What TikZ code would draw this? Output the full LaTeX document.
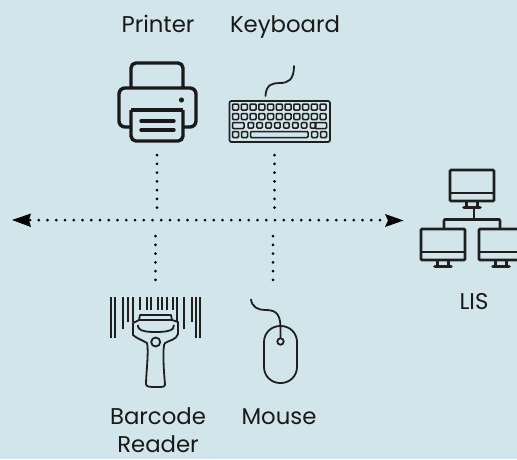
\documentclass[tikz,border=0pt]{standalone}
\usepackage{fontspec}
\setmainfont{Poppins}
\tikzset{
 lbl/.style={font=\fontsize{22.8}{28}\selectfont,text=black!90,align=center,inner sep=0pt},
 icon/.style={draw=black!90,line width=3.4pt,line join=round},
 thin icon/.style={draw=black!88,line width=1.5pt,rounded corners=1pt},
 mid icon/.style={draw=black!88,line width=1.8pt,line join=round,line cap=round},
 dotline/.style={black,line width=3pt,line cap=round,dash pattern=on 0pt off 8.75pt},
 net/.style={draw=black!88,line width=2.7pt}
}
\begin{document}
\begin{tikzpicture}[x=1pt,y=-1pt]
\useasboundingbox (0,0) rectangle (517,459);
\fill[fill={rgb,255:red,209;green,229;blue,235}] (0,0) rectangle (517,459);
\node[lbl,anchor=base] (printer) at (158,32) {Printer};
\node[lbl,anchor=base] (keyboard) at (285,32) {Keyboard};
\node[lbl,anchor=base] (lis) at (474,309) {LIS};
\node[lbl,anchor=base] (barcode) at (158,452) {Barcode\\Reader};
\node[lbl,anchor=base] (mouse) at (279,424) {Mouse};
% printer
\draw[icon,rounded corners=5pt] (131,87) -- (131,63) -- (183,63) -- (183,87);
\draw[icon,rounded corners=6pt] (131,127) -- (119,127) -- (119,88) -- (196,88) -- (196,127) -- (183,127);
\draw[icon] (131,110) -- (183,110);
\draw[icon,rounded corners=5pt] (131,110) -- (131,141) -- (183,141) -- (183,110);
\draw[icon,line cap=round] (141,121) -- (174,121) (141,130) -- (174,130);
\fill[black!88] (181.5,100) circle (2.6pt);
% keyboard
\draw[thin icon,line width=1.7pt,rounded corners=2pt] (229.5,101) rectangle (330,142);
\draw[mid icon] (265.5,96) .. controls (266,84) and (273,83) .. (280,83) .. controls (288,83) and (294,80) .. (294,66);
\foreach \i in {0,...,10}{
 \draw[thin icon] ({232.5+\i*8.75},104) rectangle ++(6,6);
 \draw[thin icon] ({232.5+\i*8.75},113.5) rectangle ++(6,6);
}
\draw[thin icon] (232.5,122.5) rectangle (244,128.5);
\foreach \i in {0,...,7}{\draw[thin icon] ({248+\i*8.9},122.5) rectangle ++(5.5,5.5);}
\draw[thin icon] (315,122.5) rectangle (326.5,128.5);
\draw[thin icon] (232.5,131.5) rectangle (238.5,137.5);
\draw[thin icon] (241.5,131.5) rectangle (247.5,137.5);
\draw[thin icon] (250.5,131.5) rectangle (308,137.5);
\draw[thin icon] (311.5,131.5) rectangle (317.5,137.5);
\draw[thin icon] (320.5,131.5) rectangle (326.5,137.5);
% dotted lines
\coordinate (la) at (30,220);
\coordinate (ra) at (385,220);
\draw[dotline] (la) -- (ra);
\draw[dotline] (157,155) -- (157,208);
\draw[dotline] (274.5,155) -- (274.5,208);
\draw[dotline] (155.5,236) -- (155.5,282);
\draw[dotline] (273,236) -- (273,282);
\fill[black] (12,220) -- (31,213.5) -- (29,220) -- (31,227) -- cycle;
\fill[black] (403.5,220.5) -- (385,214) -- (388,220.5) -- (385,227) -- cycle;
% network
\begin{scope}
\clip (0,0) rectangle (517,459);
\foreach \mx/\my in {450/170,421/229,479/229}{
 \draw[net,rounded corners=1pt] (\mx,\my) rectangle ++(44,31);
 \draw[net] (\mx,\my+23) -- ++(44,0);
 \draw[net] (\mx+16.5,\my+31) -- ++(0,6) (\mx+27.5,\my+31) -- ++(0,6);
 \draw[draw=black!88,line width=3.6pt,line cap=round] (\mx+14,\my+37.5) -- ++(16,0);
}
\draw[net] (474,208) -- (474,220);
\draw[net,rounded corners=1pt] (444,229) -- (444,219.5) -- (500,219.5) -- (500,229);
\end{scope}
% barcode
\foreach \x/\yy in {110.7/338,115/338,122.7/329,128.3/322,133.3/322,140/310,146.7/310,151/310,158.3/310,161.7/310,166.7/310,173.3/310,177.3/322,184.3/329,191.7/322,195.7/338,200/338}{
 \draw[draw=black!88,line width=1.8pt] (\x,297) -- (\x,\yy);
}
\fill[fill={rgb,255:red,209;green,229;blue,235},draw=black!88,line width=1.8pt,line join=round]
 (140,315) -- (171,315) -- (172,320) -- (178,322) -- (178,334) .. controls (176,340) and (170,340) .. (165,343) .. controls (162,345) and (164,375) .. (165,384)
 .. controls (165,387) and (163,387) .. (157,387) .. controls (150,387) and (146,387) .. (146,384) .. controls (146,375) and (149,350) .. (147,343)
 .. controls (142,340) and (136,338) .. (133,335) -- (133,323) -- (139,320) -- cycle;
\draw[draw=black!88,line width=1.8pt] (139,320) -- (172,320);
\draw[draw=black!88,line width=1.8pt] (138,325) .. controls (137,332) and (150,332) .. (156,332) .. controls (165,332) and (175,331) .. (174,325);
\draw[draw=black!88,line width=1.8pt] (155.7,342) circle (4.5pt);
% mouse
\draw[draw=black!88,line width=1.8pt,rounded corners=16pt] (264,326) rectangle (297,383);
\draw[mid icon] (251,299.5) .. controls (252,307) and (258,310) .. (265,310) .. controls (274,310) and (280,312) .. (280.5,326) -- (280.5,338);
\draw[draw=black!88,line width=1.8pt] (280.5,341.5) circle (3.2pt);
\end{tikzpicture}
\end{document}
